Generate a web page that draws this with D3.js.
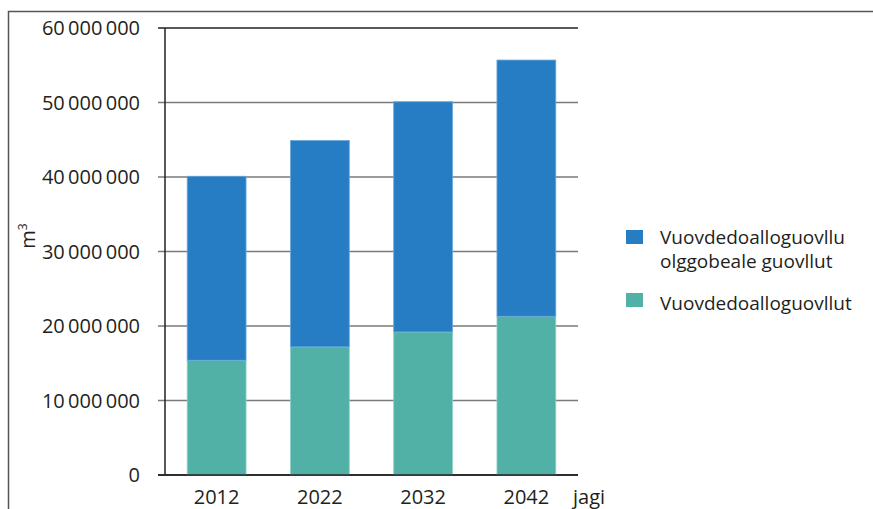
<!DOCTYPE html>
<html><head><meta charset="utf-8">
<script src="https://cdn.jsdelivr.net/npm/d3@7"></script>
<style>body{margin:0;background:#fff}svg{display:block}text{font-family:"Open Sans",sans-serif;fill:#231f20}</style>
</head><body><svg id="c" width="873" height="509"></svg>
<script>
const years = ["2012","2022","2032","2042"];
const inside = [15.4e6, 17.2e6, 19.2e6, 21.3e6];
const outside = [24.7e6, 27.7e6, 30.9e6, 34.4e6];
const yTicks = [0,10e6,20e6,30e6,40e6,50e6,60e6];
const legendLines = [["Vuovdedoalloguovllu","olggobeale guovllut"],["Vuovdedoalloguovllut"]];
const colors = {out:"#277dc4", ins:"#52b1a6"};

const svg = d3.select("#c");
const L=165,R=578,T=28,B=475;
const x = d3.scaleBand().domain(years).range([L,R]).paddingInner(0.43).paddingOuter(0.215);
const y = d3.scaleLinear().domain([0,60e6]).range([B,T]);
const fmt = v => d3.format(",")(v).replace(/,/g,"\u2009");

// frame
svg.append("path").attr("d","M8.5,509V11.5H873").attr("fill","none").attr("stroke","#555").attr("stroke-width",1.5);

// gridlines
svg.append("g").selectAll("line").data(yTicks).join("line")
  .attr("x1",158).attr("x2",R).attr("y1",d=>y(d)).attr("y2",d=>y(d))
  .attr("stroke",d=>(d===0||d===60e6)?"#231f20":"#7a7a7a").attr("stroke-width",1.5);

// bars
const data = years.map((yr,i)=>({yr, ins:inside[i], out:outside[i]}));
const g = svg.append("g");
g.selectAll("rect.ins").data(data).join("rect").attr("class","ins")
  .attr("x",d=>x(d.yr)).attr("width",x.bandwidth())
  .attr("y",d=>y(d.ins)).attr("height",d=>B-y(d.ins))
  .attr("fill",colors.ins).attr("stroke","#8fd0c6").attr("stroke-width",0.8);
g.selectAll("rect.out").data(data).join("rect").attr("class","out")
  .attr("x",d=>x(d.yr)).attr("width",x.bandwidth())
  .attr("y",d=>y(d.ins+d.out)).attr("height",d=>y(d.ins)-y(d.ins+d.out))
  .attr("fill",colors.out).attr("stroke","#6aa8dc").attr("stroke-width",0.8);

// axes lines
svg.append("line").attr("x1",165).attr("x2",165).attr("y1",T).attr("y2",B).attr("stroke","#231f20").attr("stroke-width",1.5);
svg.append("line").attr("x1",158).attr("x2",R).attr("y1",B).attr("y2",B).attr("stroke","#231f20").attr("stroke-width",1.5);

// y tick labels
svg.append("g").selectAll("text").data(yTicks).join("text")
  .attr("x",140).attr("y",d=>y(d)+7).attr("text-anchor","end")
  .attr("font-size",20).text(d=>fmt(d));

// x labels
svg.append("g").selectAll("text").data(years).join("text")
  .attr("x",d=>x(d)+x.bandwidth()/2).attr("y",504).attr("text-anchor","middle")
  .attr("font-size",20).text(d=>d);
svg.append("text").attr("x",573).attr("y",504).attr("font-size",20).text("jagi");

// y axis label
const yl = svg.append("text").attr("transform","translate(35,236) rotate(-90)").attr("text-anchor","middle").attr("font-size",20);
yl.append("tspan").text("m");
yl.append("tspan").attr("dy",-8).attr("font-size",12).text("3");

// legend
const lg = svg.append("g");
lg.append("rect").attr("x",626).attr("y",230).attr("width",17).attr("height",14).attr("fill",colors.out);
lg.append("text").attr("x",660).attr("y",243.5).attr("font-size",19).text(legendLines[0][0]);
lg.append("text").attr("x",660).attr("y",268).attr("font-size",19).text(legendLines[0][1]);
lg.append("rect").attr("x",626).attr("y",293).attr("width",17).attr("height",14).attr("fill",colors.ins);
lg.append("text").attr("x",660).attr("y",310).attr("font-size",19).text(legendLines[1][0]);
</script></body></html>
